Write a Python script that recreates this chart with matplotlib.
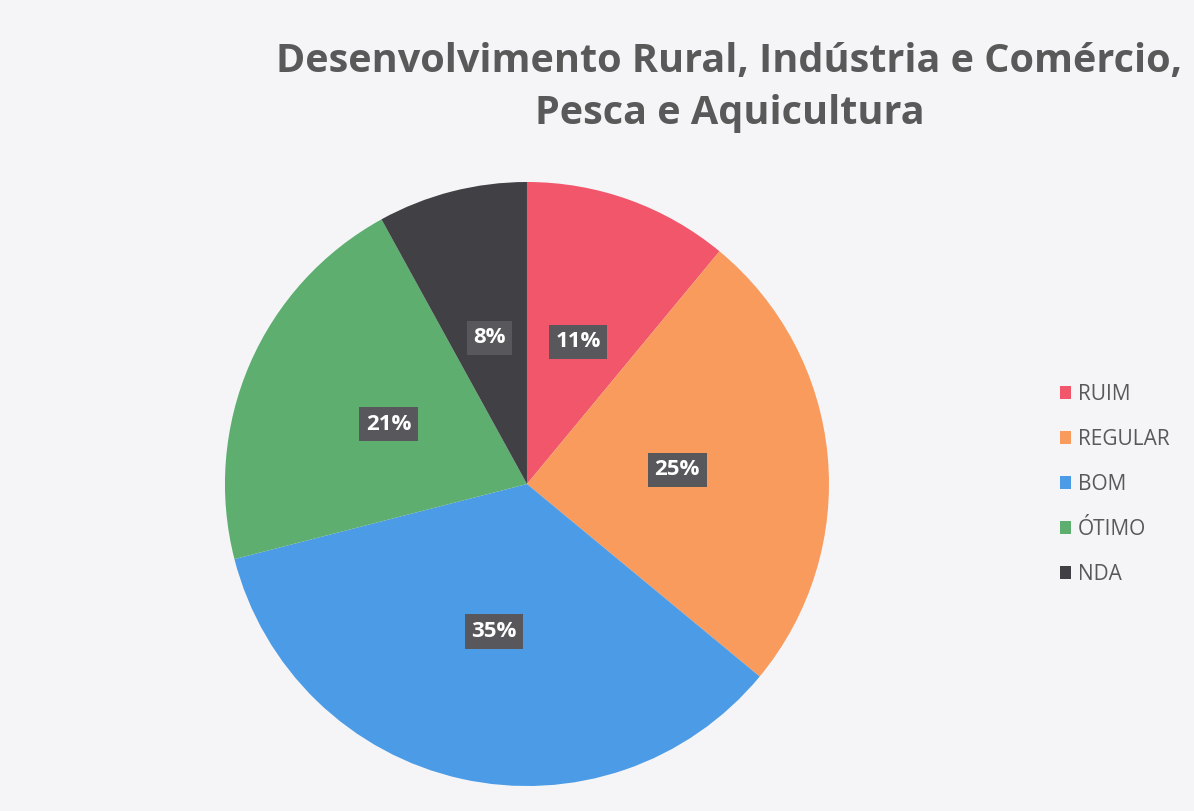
import matplotlib.pyplot as plt

categorias = ["RUIM", "REGULAR", "BOM", "ÓTIMO", "NDA"]
valores = [11, 25, 35, 21, 8]
cores = ["#F2566B", "#F89B5C", "#4C9BE6", "#5DAE6F", "#404045"]
titulo = "Desenvolvimento Rural, Indústria e Comércio,\nPesca e Aquicultura"

plt.rcParams['font.family'] = ['Open Sans', 'DejaVu Sans']

fig = plt.figure(figsize=(11.94, 8.11), dpi=100)
fig.patch.set_facecolor("#F5F5F7")

ax = fig.add_axes([0.1884, 0.0308, 0.5059, 0.7448])
wedges, textos, pcts = ax.pie(
    valores, colors=cores, startangle=90, counterclock=False,
    autopct="%1.0f%%", pctdistance=0.5,
    wedgeprops=dict(linewidth=0),
)
for t in pcts:
    t.set_color("white")
    t.set_fontsize(16)
    t.set_fontweight("bold")
    t.set_bbox(dict(boxstyle="square,pad=0.3", facecolor="#58585C", edgecolor="none"))
ax.set_xlim(-1, 1)
ax.set_ylim(-1, 1)
ax.set_aspect("equal")

fig.text(0.611, 0.948, titulo, ha="center", va="top", fontsize=28.5,
         fontweight="bold", color="#595959", linespacing=1.42)

leg = fig.legend(wedges, categorias, loc="center left",
                 bbox_to_anchor=(0.872, 0.4026), frameon=False,
                 fontsize=15, labelspacing=1.15, handlelength=0.55,
                 handleheight=0.55, handletextpad=0.3)
for t in leg.get_texts():
    t.set_color("#595959")

fig.savefig("out.png", dpi=100, facecolor=fig.get_facecolor())
